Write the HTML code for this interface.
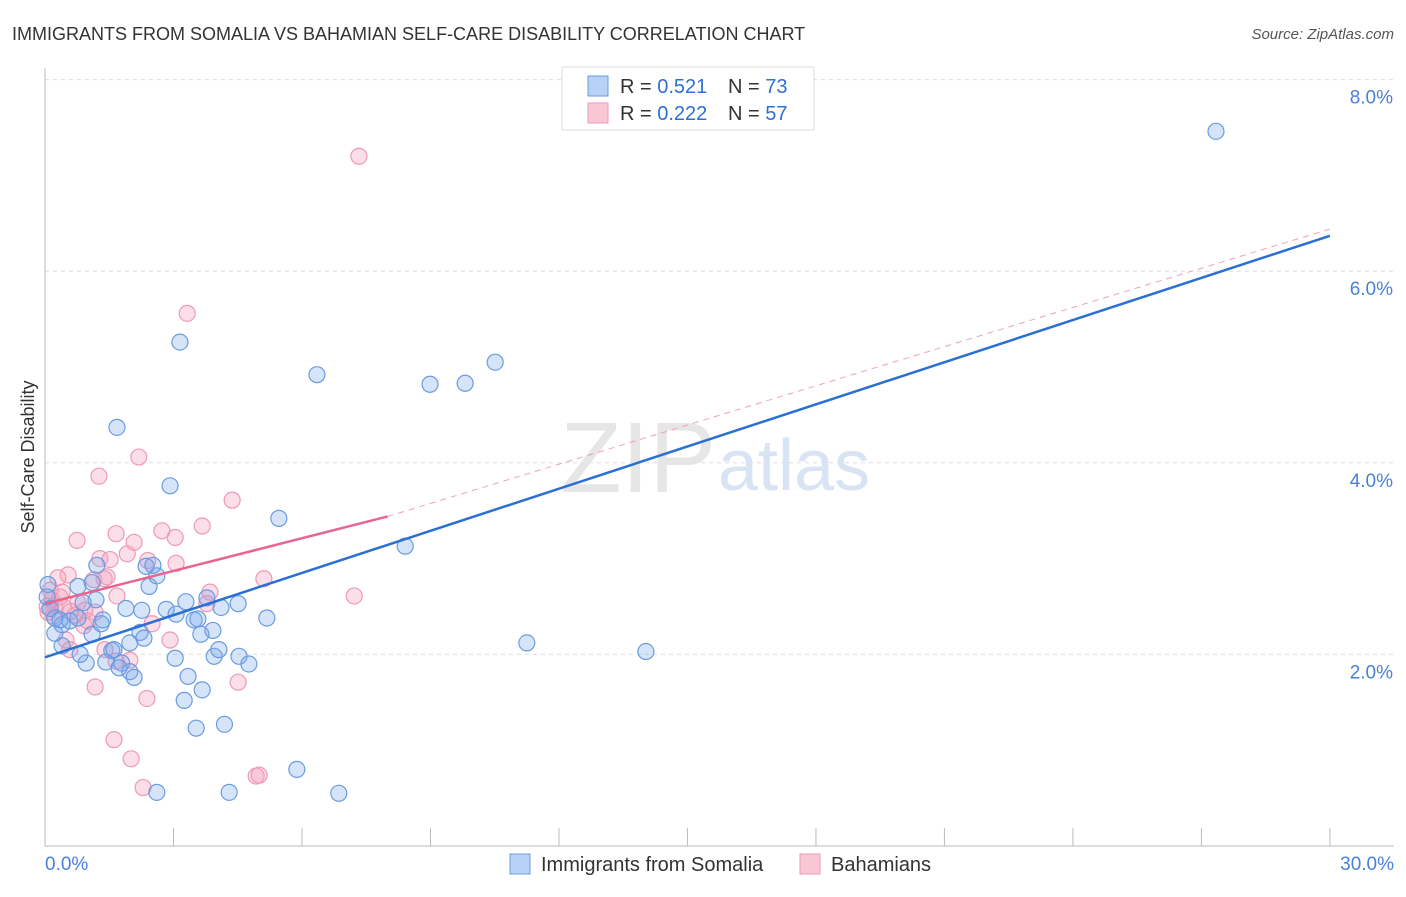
<!DOCTYPE html>
<html><head><meta charset="utf-8"><style>
body{margin:0;background:#fff;font-family:"Liberation Sans",sans-serif;}
svg text{font-family:"Liberation Sans",sans-serif;}
</style></head><body>
<svg width="1406" height="892" xmlns="http://www.w3.org/2000/svg">
<text x="12" y="40" font-size="18" fill="#333">IMMIGRANTS FROM SOMALIA VS BAHAMIAN SELF-CARE DISABILITY CORRELATION CHART</text>
<text x="1394" y="39" font-size="15" fill="#555" font-style="italic" text-anchor="end">Source: ZipAtlas.com</text>
<g id="grid"></g>
<text x="716" y="492" font-size="100" fill="#e6e6e6" text-anchor="end" font-family="Liberation Serif">ZIP</text>
<text x="718" y="490" font-size="72" fill="#d8e4f4">atlas</text>
<g id="marks"></g>
<text transform="translate(34,457) rotate(-90)" font-size="18" fill="#333" text-anchor="middle">Self-Care Disability</text>
<g>
<rect x="562" y="67" width="252" height="63" fill="#fff" stroke="#ddd"/>
<rect x="588" y="76" width="20" height="20" fill="#b8d2f6" stroke="#6a9be0"/>
<rect x="588" y="103" width="20" height="20" fill="#f9c6d6" stroke="#ee9ab5"/>
<text x="620" y="93" font-size="20" fill="#333">R = <tspan fill="#2f6fd6">0.521</tspan><tspan x="728">N = </tspan><tspan fill="#2f6fd6">73</tspan></text>
<text x="620" y="120" font-size="20" fill="#333">R = <tspan fill="#2f6fd6">0.222</tspan><tspan x="728">N = </tspan><tspan fill="#2f6fd6">57</tspan></text>
</g>
<g>
<rect x="510" y="854" width="20" height="20" fill="#b8d2f6" stroke="#6a9be0"/>
<text x="541" y="871" font-size="20" fill="#333">Immigrants from Somalia</text>
<rect x="800" y="854" width="20" height="20" fill="#f9c6d6" stroke="#ee9ab5"/>
<text x="831" y="871" font-size="20" fill="#333">Bahamians</text>
</g>
</svg>
<script>
const yTicks=[2,4,6,8];
const yTickLabels=["2.0%","4.0%","6.0%","8.0%"];
const xTickLabels=["0.0%","30.0%"];
const blueX=[27.34,3.15,6.35,8.99,9.81,10.51,1.68,2.92,5.46,8.41,11.25,14.03,2.61,4.30,5.88,6.86,3.53,4.19,3.25,3.67,3.34,3.04,3.95,4.53,4.76,4.06,3.92,3.64,3.48,3.57,3.29,2.83,3.06,3.78,4.11,4.51,5.18,2.43,2.61,2.36,2.52,2.26,1.89,2.22,2.31,1.98,1.56,1.61,1.79,1.42,1.73,1.98,2.08,0.96,0.82,0.40,0.23,0.40,0.58,0.77,1.10,1.31,1.19,0.89,1.10,0.77,1.21,0.23,0.12,0.07,1.35,0.35,0.05];
const blueY=[7.46,5.26,4.92,4.82,4.83,5.05,4.37,3.76,3.42,3.13,2.12,2.03,0.56,0.56,0.80,0.55,1.23,1.27,1.52,1.63,1.77,1.96,1.98,1.98,1.90,2.05,2.25,2.21,2.36,2.37,2.55,2.47,2.42,2.59,2.49,2.53,2.38,2.71,2.82,2.92,2.93,2.46,2.48,2.23,2.17,2.12,2.04,2.05,1.91,1.92,1.86,1.82,1.76,1.91,2.00,2.09,2.22,2.31,2.35,2.38,2.21,2.32,2.57,2.54,2.75,2.71,2.93,2.38,2.48,2.73,2.36,2.36,2.60];
const pinkX=[7.33,3.32,2.19,1.26,4.37,3.67,2.73,3.04,1.66,0.75,2.08,1.92,1.28,1.52,2.40,3.06,1.45,0.54,0.30,1.14,1.38,5.11,7.22,3.85,3.78,1.68,0.40,0.16,0.23,0.44,0.77,0.93,1.17,0.70,0.07,2.50,0.91,0.49,2.92,0.58,1.40,1.98,1.66,4.51,1.17,2.38,1.61,2.01,2.29,4.93,5.00,0.12,0.05,0.20,0.60,1.00,0.35];
const pinkY=[7.20,5.56,4.06,3.86,3.61,3.34,3.29,3.22,3.26,3.19,3.17,3.05,3.00,2.99,2.98,2.95,2.81,2.83,2.80,2.78,2.79,2.79,2.61,2.65,2.53,2.61,2.65,2.57,2.51,2.49,2.54,2.46,2.44,2.41,2.44,2.32,2.30,2.15,2.15,2.05,2.05,1.94,1.93,1.71,1.66,1.54,1.11,0.91,0.61,0.73,0.74,2.67,2.50,2.40,2.45,2.35,2.60];
const blueFit=[1.97,6.37];
const pinkFit=[2.53,3.44,6.44];
const NS="http://www.w3.org/2000/svg";
const X=v=>45+v*42.83, Y=v=>846-v*95.8;
function mk(t,a,p){const e=document.createElementNS(NS,t);for(const k in a)e.setAttribute(k,a[k]);p.appendChild(e);return e;}
const grid=document.getElementById('grid'), marks=document.getElementById('marks');
yTicks.forEach((t,i)=>{
 const l=mk('line',{x1:45,x2:1394,y1:Y(t),y2:Y(t),stroke:'#ddd','stroke-dasharray':'4,4'},grid);
 
 
 const tx=mk('text',{x:1393,y:Y(t)+24,'font-size':19,fill:'#4a80d8','text-anchor':'end'},grid);
 tx.textContent=yTickLabels[i];
 
 
});
mk('line',{x1:45,x2:45,y1:68,y2:846,stroke:'#bbb'},grid);
mk('line',{x1:45,x2:1394,y1:846,y2:846,stroke:'#bbb'},grid);
for(let i=0;i<=10;i++){const t=mk('line',{x1:X(i*3),x2:X(i*3),y1:828,y2:846,stroke:'#bbb'},grid);
 
 }
[[0,'start'],[30,'end']].forEach((d,i)=>{const t=mk('text',{x:i?1394:45,y:870,'font-size':19,fill:'#4a80d8','text-anchor':d[1]},grid);t.textContent=xTickLabels[i];
 
 });
pinkX.forEach((x,i)=>{const c=mk('circle',{cx:X(x),cy:Y(pinkY[i]),r:8,fill:'rgba(244,160,190,0.35)',stroke:'#ee9ab5','stroke-width':1.2},marks);
 
 });
blueX.forEach((x,i)=>{const c=mk('circle',{cx:X(x),cy:Y(blueY[i]),r:8,fill:'rgba(120,165,235,0.3)',stroke:'#6a9be0','stroke-width':1.2},marks);
 
 });
let l=mk('line',{x1:X(8),y1:Y(pinkFit[1]),x2:X(30),y2:Y(pinkFit[2]),stroke:'#f0a0b8','stroke-dasharray':'6,5','stroke-width':1},marks);


l=mk('line',{x1:X(0),y1:Y(blueFit[0]),x2:X(30),y2:Y(blueFit[1]),stroke:'#2a6fd4','stroke-width':2.5},marks);


l=mk('line',{x1:X(0),y1:Y(pinkFit[0]),x2:X(8),y2:Y(pinkFit[1]),stroke:'#e8658f','stroke-width':2.5},marks);


</script>
</body></html>
